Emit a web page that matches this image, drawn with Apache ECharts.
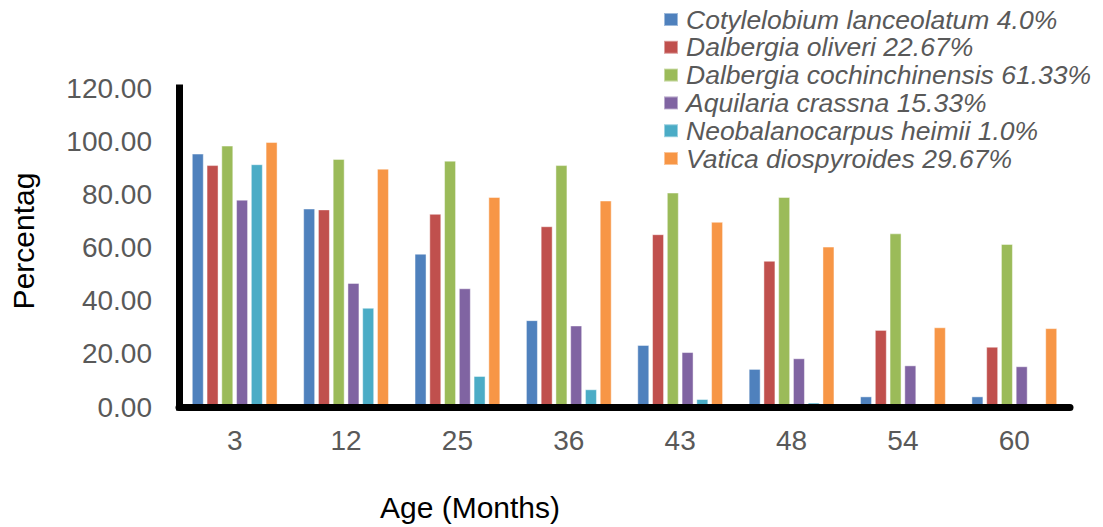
<!DOCTYPE html>
<html>
<head>
<meta charset="utf-8">
<script src="https://cdn.jsdelivr.net/npm/echarts@6/dist/echarts.min.js"></script>
<style>
html,body{margin:0;padding:0;background:#fff;}
#chart{width:1103px;height:527px;}
</style>
</head>
<body>
<div id="chart"></div>
<script>
var categories = ['3', '12', '25', '36', '43', '48', '54', '60'];
var seriesNames = [
  'Cotylelobium lanceolatum 4.0%',
  'Dalbergia oliveri 22.67%',
  'Dalbergia cochinchinensis 61.33%',
  'Aquilaria crassna 15.33%',
  'Neobalanocarpus heimii 1.0%',
  'Vatica diospyroides 29.67%'
];
var cotylelobium = [95.33, 74.67, 57.67, 32.67, 23.33, 14.33, 4.0, 4.0];
var dalbergiaOliveri = [91.0, 74.33, 72.67, 68.0, 65.0, 55.0, 29.0, 22.67];
var dalbergiaCochin = [98.33, 93.33, 92.67, 91.0, 80.67, 79.0, 65.33, 61.33];
var aquilaria = [78.0, 46.67, 44.67, 30.67, 20.67, 18.33, 15.67, 15.33];
var neobalanocarpus = [91.33, 37.33, 11.67, 6.67, 3.0, 1.67, 1.0, 1.0];
var vatica = [99.67, 89.67, 79.0, 77.67, 69.67, 60.33, 30.0, 29.67];
var yTicks = {min: 0, max: 120, interval: 20};
var xAxisTitle = 'Age (Months)';
var yAxisTitle = 'Percentag';

var colors = ['#4F81BD', '#C0504D', '#9BBB59', '#8064A2', '#4BACC6', '#F79646'];
var allData = [cotylelobium, dalbergiaOliveri, dalbergiaCochin, aquilaria, neobalanocarpus, vatica];

var chart = echarts.init(document.getElementById('chart'), null, {renderer: 'svg'});
var option = {
  animation: false,
  color: colors,
  grid: {left: 179, right: 33, top: 88, bottom: 120, containLabel: false},
  legend: {
    orient: 'vertical',
    left: 658,
    top: 1,
    itemWidth: 14,
    itemHeight: 13,
    itemGap: 0.8,
    icon: 'rect',
    data: seriesNames,
    textStyle: {
      fontFamily: 'Liberation Sans, Arial, sans-serif',
      fontStyle: 'italic',
      fontSize: 26.5,
      lineHeight: 26,
      color: '#595959',
      padding: [0, 0, 0, 3]
    }
  },
  xAxis: {
    type: 'category',
    data: categories,
    z: 5,
    axisLine: {show: true, onZero: false, lineStyle: {color: '#000', width: 7}},
    axisTick: {show: false},
    axisLabel: {
      margin: 19,
      fontFamily: 'Liberation Sans, Arial, sans-serif',
      fontSize: 28,
      color: '#595959'
    },
    splitLine: {show: false}
  },
  yAxis: {
    type: 'value',
    min: yTicks.min,
    max: yTicks.max,
    interval: yTicks.interval,
    z: 5,
    axisLine: {show: true, lineStyle: {color: '#000', width: 7, cap: 'square'}},
    axisTick: {show: false},
    splitLine: {show: false},
    axisLabel: {
      margin: 27,
      fontFamily: 'Liberation Sans, Arial, sans-serif',
      fontSize: 28,
      color: '#595959',
      formatter: function (v) { return v.toFixed(2); }
    }
  },
  graphic: [
    {
      type: 'text', x: 470, y: 507, z: 10,
      style: {
        text: xAxisTitle, fill: '#000',
        font: '30px "Liberation Sans", Arial, sans-serif',
        textAlign: 'center', textVerticalAlign: 'middle'
      }
    },
    {
      type: 'text', x: 23, y: 241, rotation: Math.PI / 2, z: 10,
      style: {
        text: yAxisTitle, fill: '#000',
        font: '30px "Liberation Sans", Arial, sans-serif',
        textAlign: 'center', textVerticalAlign: 'middle'
      }
    }
  ],
  series: seriesNames.map(function (name, i) {
    return {
      name: name,
      type: 'bar',
      data: allData[i],
      barWidth: 12,
      barGap: '23%',
      z: 2,
      itemStyle: {color: colors[i], borderColor: 'rgba(255,255,255,0.45)', borderWidth: 1}
    };
  })
};
chart.setOption(option);
</script>
</body>
</html>
